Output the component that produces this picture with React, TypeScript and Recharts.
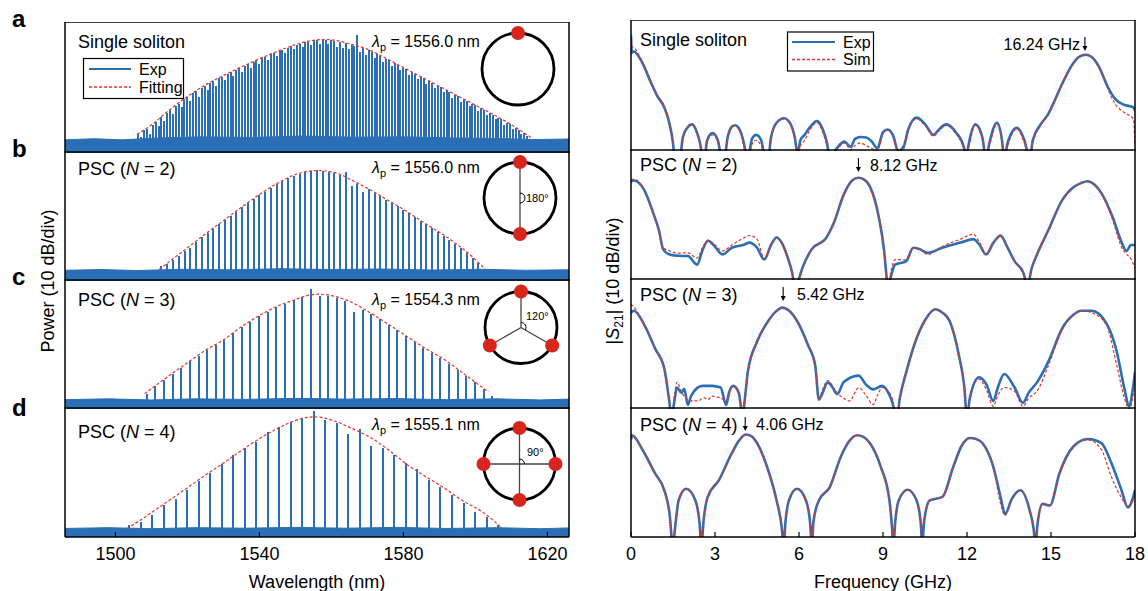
import React from 'react';
import { ComposedChart, Bar, Line, Area, XAxis, YAxis } from 'recharts';

const FONT = "'Liberation Sans', Arial, Helvetica, sans-serif";
const BLUE = '#2a6fb5';
const RED = '#e3342a';

type Pt = [number, number];

// ---------- optical spectra (left column) ----------
const wlDomain: [number, number] = [1486, 1626];
const wlTicks = [1500, 1540, 1580, 1620];
const powTicks = [10, 20, 30, 40];

// comb lines: [wavelength nm, power dB]
const combSingle: Pt[] = [
  [1506.4, 7], [1507.2, 6], [1508.0, 8.5], [1508.8, 9], [1509.6, 7], [1510.4, 10.5], [1511.2, 11.5], [1512.0, 10],
  [1512.8, 13.3], [1513.6, 12], [1514.4, 15], [1515.2, 16], [1516.0, 14.5], [1516.8, 17.6], [1517.6, 18.4], [1518.4, 17],
  [1519.2, 20], [1520.0, 20.8], [1520.8, 19.5], [1521.6, 22.2], [1522.4, 23], [1523.2, 21], [1524.0, 24.2], [1524.8, 25],
  [1525.6, 23.5], [1526.4, 26.1], [1527.2, 26.8], [1528.0, 25], [1528.8, 27.8], [1529.6, 28.4], [1530.4, 27], [1531.2, 29.5],
  [1532.0, 30], [1532.8, 28.5], [1533.6, 31], [1534.4, 31.5], [1535.2, 30], [1536.0, 32.5], [1536.8, 33], [1537.6, 31.5],
  [1538.4, 33.9], [1539.2, 34.4], [1540.0, 33], [1540.8, 35.3], [1541.6, 35.8], [1542.4, 34.5], [1543.2, 36.7], [1544.0, 37.1],
  [1544.8, 36], [1545.6, 38], [1546.4, 38.4], [1547.2, 37], [1548.0, 39.2], [1548.8, 39.6], [1549.6, 38.5], [1550.4, 40.3],
  [1551.2, 40.6], [1552.0, 39.5], [1552.8, 41.1], [1553.6, 41.4], [1554.4, 40], [1555.2, 41.9], [1556.0, 42], [1556.8, 40.5],
  [1557.6, 42.1], [1558.4, 42.1], [1559.2, 40.5], [1560.0, 41.9], [1560.8, 41.8], [1561.6, 39.5], [1562.4, 41.3], [1563.2, 39],
  [1564.0, 40.8], [1564.8, 38.5], [1565.6, 40.3], [1566.4, 39.9], [1567.2, 44], [1568.0, 37.5], [1568.8, 38.9], [1569.6, 36.5],
  [1570.4, 38.2], [1571.2, 37.7], [1572.0, 35.5], [1572.8, 36.7], [1573.6, 36.1], [1574.4, 34], [1575.2, 35.1], [1576.0, 34.5],
  [1576.8, 32.5], [1577.6, 33.5], [1578.4, 32.9], [1579.2, 31], [1580.0, 31.7], [1580.8, 31.1], [1581.6, 29], [1582.4, 30],
  [1583.2, 29.5], [1584.0, 27.5], [1584.8, 28.3], [1585.6, 27.8], [1586.4, 25.5], [1587.2, 26.7], [1588.0, 26.1], [1588.8, 24],
  [1589.6, 25], [1590.4, 24.4], [1591.2, 22.5], [1592.0, 23.3], [1592.8, 22.7], [1593.6, 20.5], [1594.4, 21.6], [1595.2, 21.1],
  [1596.0, 19], [1596.8, 19.9], [1597.6, 19.4], [1598.4, 17.5], [1599.2, 18.3], [1600.0, 17.7], [1600.8, 15.5], [1601.6, 16.6],
  [1602.4, 16], [1603.2, 14], [1604.0, 14.9], [1604.8, 14.3], [1605.6, 12.5], [1606.4, 13.1], [1607.2, 12.5], [1608.0, 10.5],
  [1608.8, 11.3], [1609.6, 10.7], [1610.4, 9], [1611.2, 9.4], [1612.0, 8.7], [1612.8, 7], [1613.6, 7.3], [1614.4, 6.5],
];
const envSingle: Pt[] = [
  [1506, 7], [1510, 10.4], [1515, 16], [1520, 21], [1525, 25.3], [1530, 28.8], [1535, 32], [1540, 35], [1545, 37.8],
  [1550, 40.3], [1555, 41.9], [1558, 42.2], [1561, 41.9], [1565, 40.6], [1570, 38.6], [1575, 35.3], [1580, 31.8],
  [1585, 28.3], [1590, 24.8], [1595, 21.3], [1600, 17.8], [1605, 14.3], [1610, 10.5], [1615.4, 5.8],
];
const floorSingle: Pt[] = [
  [1486, 4.9], [1494, 5.3], [1502, 4.9], [1512, 5.6], [1524, 6.0], [1538, 5.8], [1552, 6.3], [1566, 5.9],
  [1580, 6.0], [1594, 5.6], [1606, 5.4], [1616, 5.0], [1626, 5.2],
];

const combN2: Pt[] = [
  [1512.8, 5.5], [1514.4, 6.5], [1516.0, 8], [1517.6, 9.5], [1519.2, 11.4], [1520.8, 12.5], [1522.4, 14.7], [1524.0, 16.3],
  [1525.6, 18], [1527.2, 19.5], [1528.8, 21.2], [1530.4, 22.8], [1532.0, 24.5], [1533.6, 26], [1535.2, 27.6], [1536.8, 29.2],
  [1538.4, 30.7], [1540.0, 32.2], [1541.6, 33.5], [1543.2, 35], [1544.8, 36.3], [1546.4, 37.4], [1548.0, 38.5], [1549.6, 39.5],
  [1551.2, 40.2], [1552.8, 40.9], [1554.4, 41.2], [1556.0, 41.4], [1557.6, 41.2], [1559.2, 40.9], [1560.8, 40.4], [1562.4, 39.8],
  [1564.0, 41], [1565.6, 35.5], [1567.2, 36.5], [1568.8, 33.5], [1570.4, 34.3], [1572.0, 33], [1573.6, 31.8], [1575.2, 30.5],
  [1576.8, 29.2], [1578.4, 28], [1580.0, 26.6], [1581.6, 25.3], [1583.2, 24], [1584.8, 22.5], [1586.4, 21.2], [1588.0, 19.8],
  [1589.6, 18.4], [1591.2, 17], [1592.8, 15.5], [1594.4, 14], [1596.0, 12.4], [1597.6, 10.6], [1599.2, 8.7], [1600.8, 6.8],
];
const envN2: Pt[] = [
  [1512.2, 4.4], [1519, 11.4], [1525, 17.6], [1530, 22.6], [1535, 27.6], [1540, 32.4], [1545, 36.6], [1550, 39.9],
  [1553, 41], [1556.3, 41.4], [1559, 41.1], [1562.5, 39.9], [1566, 37.5], [1571, 34], [1576, 30], [1581, 26],
  [1586, 21.6], [1591, 17.4], [1596, 12.6], [1600, 8], [1602.7, 4.4],
];
const floorN2: Pt[] = [
  [1486, 4.0], [1496, 4.3], [1506, 3.9], [1518, 4.4], [1532, 4.2], [1546, 4.6], [1560, 4.3], [1574, 4.5],
  [1588, 4.1], [1602, 4.4], [1614, 4.0], [1626, 4.2],
];

const combN3: Pt[] = [
  [1508.7, 5.5], [1511.1, 8.5], [1513.5, 11], [1515.9, 13.2], [1518.3, 15.5], [1520.7, 17.8], [1523.1, 20], [1525.5, 22.2],
  [1527.9, 24], [1530.3, 26], [1532.7, 28.4], [1535.1, 30.7], [1537.5, 32.7], [1539.9, 34.8], [1542.3, 36.5], [1544.7, 38.2],
  [1547.1, 39.5], [1549.5, 40.7], [1551.9, 41.8], [1554.3, 45], [1556.7, 42.5], [1559.1, 42.3], [1561.5, 41.7], [1563.9, 40.5],
  [1566.3, 36.5], [1568.7, 37], [1571.1, 35.6], [1573.5, 33.6], [1575.9, 31.5], [1578.3, 29.5], [1580.7, 27.3], [1583.1, 25.2],
  [1585.5, 23], [1587.9, 21], [1590.3, 19.2], [1592.7, 17], [1595.1, 14.7], [1597.5, 12.4], [1599.9, 10], [1602.3, 7.5],
  [1604.7, 5],
];
const envN3: Pt[] = [
  [1508.1, 5.7], [1512, 9.6], [1516, 13.5], [1520, 17.3], [1525, 22], [1530, 25.9], [1535, 30.8], [1540, 35],
  [1545, 38.5], [1550, 41], [1553, 42.4], [1556.3, 43], [1560, 42.5], [1565.6, 40], [1570.8, 36], [1576, 31.6],
  [1581, 27.2], [1586, 22.8], [1591.3, 18.6], [1596, 14], [1601.8, 8.2], [1603.6, 6.5],
];
const floorN3: Pt[] = [
  [1486, 3.5], [1498, 3.8], [1510, 3.4], [1522, 3.8], [1536, 3.6], [1550, 4.0], [1564, 3.7], [1578, 3.9],
  [1592, 3.5], [1606, 3.8], [1618, 3.4], [1626, 3.7],
];

const combN4: Pt[] = [
  [1503.9, 4.5], [1507.1, 5.8], [1510.3, 8.2], [1513.5, 12], [1516.7, 14.2], [1519.9, 17.7], [1523.1, 20.9], [1526.3, 24],
  [1529.5, 27.2], [1532.7, 30.6], [1535.9, 33.2], [1539.1, 35.7], [1542.3, 39.2], [1545.5, 41.1], [1548.7, 43.2], [1551.9, 44.6],
  [1555.1, 47.2], [1558.3, 44], [1561.5, 42.8], [1564.7, 38.6], [1567.9, 40.5], [1571.1, 34.2], [1574.3, 33.5], [1577.5, 30.6],
  [1580.7, 27.8], [1583.9, 25.3], [1587.1, 21.5], [1590.3, 18.7], [1593.5, 15.8], [1596.7, 12.7], [1599.9, 9.5], [1603.1, 7.6],
  [1606.3, 4.5],
];
const envN4: Pt[] = [
  [1503.2, 3.2], [1507, 6.4], [1512, 11], [1519.2, 17.7], [1525, 23.2], [1529.5, 27.2], [1535, 32.4], [1539.8, 36.7],
  [1545, 40.6], [1550.1, 43.7], [1555.3, 45], [1560.4, 43.7], [1565.5, 40.8], [1570.8, 37.3], [1576, 32.5], [1581, 27.2],
  [1586, 22.8], [1591.3, 18.4], [1596, 14], [1601.8, 9.5], [1605, 6.2], [1607.4, 3.2],
];
const floorN4: Pt[] = [
  [1486, 3.2], [1498, 3.5], [1510, 3.1], [1522, 3.5], [1536, 3.3], [1550, 3.6], [1564, 3.3], [1578, 3.6],
  [1592, 3.2], [1606, 3.5], [1618, 3.1], [1626, 3.4],
];

// ---------- RF spectra (right column): [frequency GHz, |S21| dB] ----------
const fDomain: [number, number] = [0, 18];
const fTicks = [0, 3, 6, 9, 12, 15, 18];
const s21Ticks = [9.2, 19.2, 29.2, 39.2];

const expSingle: Pt[] = [
  [0, 43], [0.03, 36.5], [0.1, 37], [0.41, 32.7], [0.73, 25], [0.93, 20.6], [1.19, 16.2], [1.38, 9.9], [1.5, 3], [1.56, -3],
  [1.74, -3], [1.85, 5], [2.0, 8.5], [2.19, 9.9], [2.35, 7], [2.5, 1], [2.55, -3], [2.62, -3], [2.72, 4], [2.91, 6.7],
  [3.1, 4], [3.25, -3], [3.33, -3], [3.45, 5], [3.6, 9], [3.72, 9.6], [3.9, 7.5], [4.05, 2], [4.14, -3], [4.22, -1],
  [4.32, 4.5], [4.47, 6], [4.65, 4], [4.8, -3], [4.9, -3], [5.0, 5], [5.2, 10.5], [5.47, 12.2], [5.7, 10], [5.85, 5],
  [5.95, -1], [6.05, 4], [6.2, 6], [6.4, 9], [6.64, 11.1], [6.85, 8], [7.0, 3], [7.1, -3], [7.35, 1], [7.62, 3.5],
  [7.85, 1.5], [8.0, 4.5], [8.2, 5.2], [8.4, 5], [8.6, 3.5], [8.8, 1], [9.0, 7], [9.17, 8], [9.35, 6], [9.55, 0],
  [9.75, 2], [9.9, 8], [10.2, 12.4], [10.5, 10], [10.8, 6], [11.0, 8], [11.25, 9.9], [11.6, 7], [11.9, 1], [11.97, -3],
  [12.05, 2], [12.3, 9.9], [12.55, 5], [12.68, -3], [12.8, 3], [13.07, 10.5], [13.25, 4], [13.33, -3], [13.45, 3], [13.78, 8.6],
  [14.05, 4], [14.24, -3], [14.35, 4], [14.63, 9.9], [14.9, 13.7], [15.1, 18], [15.4, 25], [15.8, 32.7], [16.0, 35], [16.25, 35.8],
  [16.5, 34.5], [16.71, 31.4], [17.03, 23.8], [17.29, 19.4], [17.61, 17.2], [17.94, 16.2], [18, 15],
];
const simSingle: Pt[] = [
  [0, 39], [0.1, 38.5], [0.41, 33], [0.73, 25.5], [0.93, 21], [1.19, 16.5], [1.38, 10], [1.5, 3], [1.56, -2], [1.74, -2],
  [1.85, 5], [2.0, 8.5], [2.19, 9.7], [2.35, 7], [2.5, 1], [2.55, -2], [2.62, -2], [2.72, 3.5], [2.91, 6], [3.1, 3.5],
  [3.25, -2], [3.33, -2], [3.45, 5], [3.6, 9], [3.72, 9.4], [3.9, 7], [4.05, 1], [4.14, -2], [4.22, -2], [4.32, 2.5],
  [4.47, 4], [4.65, 2], [4.8, -2], [4.9, -2], [5.0, 5], [5.2, 10.5], [5.47, 12], [5.7, 10], [5.85, 5], [5.95, -1],
  [6.05, 2], [6.2, 4], [6.4, 8], [6.64, 10.5], [6.85, 7], [7.0, 2], [7.1, -2], [7.35, 0.5], [7.62, 3], [7.85, 0.5],
  [8.0, 2], [8.2, 3], [8.4, 2], [8.6, 1], [8.8, 0], [9.0, 6.5], [9.17, 7.7], [9.35, 5.5], [9.55, -1], [9.75, 1],
  [9.9, 7.5], [10.2, 12], [10.5, 9.5], [10.8, 5.5], [11.0, 7.5], [11.25, 9.5], [11.6, 6.5], [11.9, 0.5], [11.97, -2], [12.05, 1],
  [12.3, 9.5], [12.55, 4.5], [12.68, -2], [12.8, 2], [13.07, 10], [13.25, 3.5], [13.33, -2], [13.45, 2], [13.78, 8.3], [14.05, 3],
  [14.24, -2], [14.35, 3], [14.63, 9.5], [14.9, 13.5], [15.1, 18], [15.4, 25], [15.8, 32.7], [16.0, 35], [16.25, 35.8], [16.5, 34.5],
  [16.71, 31.4], [17.03, 23], [17.29, 17.5], [17.61, 14.3], [17.94, 12], [18, 2],
];

const expN2: Pt[] = [
  [0, 36.7], [0.1, 37], [0.47, 33.5], [0.8, 24.7], [1.0, 18.4], [1.15, 11.4], [1.38, 9.5], [1.7, 9], [2.03, 8.9], [2.36, 5.7],
  [2.55, 11], [2.75, 14.6], [2.95, 13], [3.27, 9.5], [3.6, 12], [4.0, 13], [4.24, 13.9], [4.5, 12], [4.76, 7.6], [5.0, 13],
  [5.2, 15.8], [5.4, 13.5], [5.6, 8.2], [5.75, 3], [5.86, -3], [5.95, -1], [6.12, 4.4], [6.45, 11.4], [6.97, 15.6], [7.23, 20.9],
  [7.62, 32.3], [7.9, 37], [8.13, 38], [8.3, 37.5], [8.53, 34.8], [8.85, 23.4], [9.04, 10.8], [9.12, 2], [9.17, -3], [9.3, 2],
  [9.43, 5.7], [9.83, 7], [10.08, 12], [10.3, 11.5], [10.6, 10.1], [11.12, 12], [11.77, 13.9], [12.23, 15.2], [12.45, 13], [12.68, 9.5],
  [12.95, 14], [13.2, 16.5], [13.45, 12], [13.7, 7], [14.0, 3], [14.17, -2], [14.3, 4], [14.5, 9.5], [14.9, 18.4], [15.4, 29.7],
  [15.8, 34.5], [16.07, 36], [16.3, 36.7], [16.55, 35.5], [16.8, 32.3], [17.2, 23.4], [17.5, 14.6], [17.7, 10.8], [17.85, 13], [18, 13],
];
const simN2: Pt[] = [
  [0, 37.3], [0.1, 37.5], [0.47, 33.5], [0.8, 24.7], [1.0, 18.4], [1.15, 12], [1.38, 10.8], [1.7, 10], [2.03, 10.1], [2.36, 8.1],
  [2.55, 12], [2.75, 14.8], [2.95, 13.5], [3.27, 10.8], [3.6, 13], [4.0, 15.5], [4.24, 16.5], [4.5, 15.2], [4.76, 8], [5.0, 13],
  [5.2, 16], [5.4, 13.5], [5.6, 8.2], [5.75, 3], [5.86, -3], [5.95, -1], [6.12, 4.4], [6.45, 11.4], [6.97, 15.6], [7.23, 20.9],
  [7.62, 32.3], [7.9, 37], [8.13, 38], [8.3, 37.5], [8.53, 34.8], [8.85, 23.4], [9.04, 10.8], [9.12, 2], [9.17, -3], [9.3, 4],
  [9.43, 7.6], [9.83, 7.5], [10.08, 12], [10.3, 11.5], [10.6, 9.5], [11.12, 12.5], [11.77, 15.2], [12.23, 17], [12.45, 14], [12.68, 9.5],
  [12.95, 14], [13.2, 16.5], [13.45, 12], [13.7, 7], [14.0, 3], [14.17, -2], [14.3, 4], [14.5, 9.5], [14.9, 18.4], [15.4, 29.7],
  [15.8, 34.5], [16.07, 36], [16.3, 36.5], [16.55, 35.3], [16.8, 32], [17.2, 22.5], [17.5, 12.7], [17.7, 9.5], [17.85, 8], [18, 4.4],
];

const expN3: Pt[] = [
  [0, 35.8], [0.1, 36.5], [0.47, 31.4], [0.86, 22.5], [1.19, 15], [1.36, 3.5], [1.45, -3], [1.55, 3], [1.64, 8], [1.8, 6],
  [1.9, 7.5], [2.03, 1.5], [2.15, 5], [2.55, 8.6], [2.9, 8.6], [3.2, 8], [3.4, 1.5], [3.5, 6], [3.65, 8.6], [3.85, 6],
  [3.98, -2], [4.1, 7], [4.17, 13.7], [4.5, 25], [4.9, 32.7], [5.15, 36], [5.4, 37.7], [5.65, 36.5], [5.93, 32.7], [6.32, 23.8],
  [6.58, 16.2], [6.71, 3.5], [6.8, 5], [7.03, 9.9], [7.2, 8], [7.36, 5.5], [7.6, 10], [8.13, 12.4], [8.4, 9], [8.65, 7.3],
  [8.97, 8.6], [9.3, 3.5], [9.5, -3], [9.6, 4], [9.83, 13.7], [10.2, 26.3], [10.5, 33], [10.87, 37.1], [11.1, 36], [11.38, 32.7],
  [11.71, 20], [11.9, 8.6], [12.0, -3], [12.1, 4], [12.43, 11.8], [12.7, 9], [12.94, 3], [13.1, 8], [13.33, 13], [13.7, 8],
  [14.0, 2.3], [14.2, 6], [14.5, 9.9], [14.9, 17.5], [15.4, 30], [15.8, 35], [16.07, 36.5], [16.45, 36.5], [16.97, 32], [17.35, 21.3],
  [17.6, 8.6], [17.8, 1], [17.9, 6], [18, 13.7],
];
const simN3: Pt[] = [
  [0, 39], [0.1, 38], [0.47, 31.4], [0.86, 22.5], [1.19, 15], [1.36, 3.5], [1.45, -3], [1.55, 5], [1.64, 9.9], [1.8, 6.5],
  [1.9, 4.8], [2.03, 3.5], [2.2, 3], [2.4, 3], [2.6, 4.2], [2.75, 3.5], [2.9, 4.8], [3.05, 4.5], [3.2, 4.2], [3.4, 3],
  [3.5, 6], [3.65, 8.6], [3.85, 6], [3.98, -2], [4.1, 7], [4.17, 13.7], [4.5, 25], [4.9, 32.7], [5.15, 36], [5.4, 37.7],
  [5.65, 36.5], [5.93, 32.7], [6.32, 23.8], [6.58, 16.2], [6.71, 3.5], [6.8, 6], [7.03, 10.6], [7.2, 8.5], [7.36, 6], [7.6, 4],
  [7.8, 3], [8.13, 7.9], [8.4, 5], [8.65, 1.6], [8.8, 5], [8.97, 8], [9.15, 7], [9.3, 4.8], [9.5, -3], [9.6, 4],
  [9.83, 13.7], [10.2, 26.3], [10.5, 33], [10.87, 37.1], [11.1, 36], [11.38, 32.7], [11.71, 20], [11.9, 8.6], [12.0, -3], [12.1, 4],
  [12.43, 11.1], [12.7, 7], [12.94, 1], [13.1, 5], [13.33, 8], [13.7, 6.6], [14.0, 1], [14.2, 4], [14.5, 6.6], [14.9, 16],
  [15.4, 29.5], [15.8, 35], [16.07, 36.5], [16.45, 35.8], [16.97, 31.4], [17.35, 16.2], [17.6, 4.8], [17.8, 0], [18, 9.9],
];

const expN4: Pt[] = [
  [0, 36.5], [0.05, 38], [0.41, 32.7], [0.86, 23.8], [1.19, 17.5], [1.38, 8.6], [1.49, -3], [1.6, 6], [1.7, 13.7], [1.97, 18.1],
  [2.3, 13.7], [2.45, 5], [2.51, -3], [2.6, 7], [2.74, 15], [3.14, 21.3], [3.6, 31.4], [3.85, 36], [4.1, 38.4], [4.3, 37.8],
  [4.5, 35.2], [4.9, 25], [5.2, 13.7], [5.38, 4], [5.45, -3], [5.52, 6], [5.64, 13.7], [5.93, 18.1], [6.25, 13.7], [6.4, 5],
  [6.45, -3], [6.52, 6], [6.71, 13.7], [7.1, 18.7], [7.49, 30], [7.8, 36], [8.07, 38.1], [8.3, 37.5], [8.53, 35.2], [8.92, 26.3],
  [9.23, 13.7], [9.32, 4], [9.37, -3], [9.44, 6], [9.56, 13.7], [9.88, 17.7], [10.2, 13.7], [10.35, 5], [10.4, -3], [10.47, 6],
  [10.67, 13.7], [11.12, 15], [11.51, 26.3], [11.8, 34], [12.1, 37.1], [12.3, 36.8], [12.55, 35.2], [12.94, 26.3], [13.2, 15], [13.36, 8.6],
  [13.6, 14.3], [13.91, 17.5], [14.24, 9.9], [14.38, 3], [14.44, -3], [14.52, 5], [14.7, 12.4], [14.96, 11.8], [15.3, 23.8], [15.8, 33.9],
  [16.32, 36.7], [16.8, 35.2], [17.16, 27.6], [17.5, 18.1], [17.75, 11.1], [18, 17.5],
];
const simN4: Pt[] = [
  [0, 38.4], [0.05, 38], [0.41, 32.7], [0.86, 23.8], [1.19, 17.5], [1.38, 8.6], [1.49, -3], [1.6, 6], [1.7, 13.7], [1.97, 18.1],
  [2.3, 13.7], [2.45, 5], [2.51, -3], [2.6, 7], [2.74, 15], [3.14, 21.3], [3.6, 31.4], [3.85, 36], [4.1, 38.4], [4.3, 37.8],
  [4.5, 35.2], [4.9, 25], [5.2, 13.7], [5.38, 4], [5.45, -3], [5.52, 6], [5.64, 13.7], [5.93, 18.1], [6.25, 13.7], [6.4, 5],
  [6.45, -3], [6.52, 6], [6.71, 13.7], [7.1, 18.7], [7.49, 30], [7.8, 36], [8.07, 38.1], [8.3, 37.5], [8.53, 35.2], [8.92, 26.3],
  [9.23, 13.7], [9.32, 4], [9.37, -3], [9.44, 6], [9.56, 13.7], [9.88, 17.7], [10.2, 13.7], [10.35, 5], [10.4, -3], [10.47, 6],
  [10.67, 13.7], [11.12, 15], [11.51, 26.3], [11.8, 34], [12.1, 37.1], [12.3, 36.8], [12.55, 35.2], [12.94, 26.3], [13.2, 12.4], [13.36, 8],
  [13.6, 14.3], [13.91, 17.5], [14.24, 9.9], [14.38, 3], [14.44, -3], [14.52, 5], [14.7, 12.4], [14.96, 11.8], [15.3, 23.8], [15.8, 33.9],
  [16.32, 36.4], [16.8, 32.7], [17.16, 22.5], [17.5, 15], [17.75, 11.7], [18, 15.2],
];

// ---------- layout ----------
const LEFT_X = 66;
const RIGHT_X = 632;
const PLOT_W = 502;
const PAD = 24; // room for edge tick labels
const leftTops = [23, 152, 280, 408, 537];
const rightTops = [21, 150, 279, 408, 537];
const DB_MAX = 48.7;

const xy = (pts: Pt[]) => pts.map(([x, y]) => ({ x, y }));
const tickFont = { fill: '#000', fontSize: 18, fontFamily: FONT };
const frame = { stroke: '#000', strokeWidth: 1.5 };
const tickStroke = { stroke: '#000', strokeWidth: 1.2 };

// comb line drawn as a crisp vertical stroke centred on the bar
const combShape = (w: number) => (props: any) => {
  const { x, y, width, height } = props;
  if (height == null || height <= 0) return <g />;
  const cx = Math.round(x + width / 2);
  return <rect x={cx - w / 2} y={y} width={w} height={height} fill={BLUE} shapeRendering="crispEdges" />;
};

// frame = 4 axes with inward ticks; only the bottom axis of the last row carries labels
function axesFor(domain: [number, number], xTicks: number[], yTicks: number[], labels: boolean, extra: number) {
  return [
    <XAxis key="b" xAxisId="b" dataKey="x" type="number" domain={domain} ticks={xTicks} interval={0} allowDataOverflow
      height={labels ? extra : 1} stroke="#000" axisLine={frame} tickLine={tickStroke}
      mirror={!labels} tickSize={labels ? -5 : 5} tickMargin={labels ? 15 : 0} tick={labels ? tickFont : false} />,
    <XAxis key="t" xAxisId="t" orientation="top" dataKey="x" type="number" domain={domain} ticks={xTicks} interval={0}
      allowDataOverflow height={1} mirror tick={false} tickSize={5} stroke="#000" axisLine={frame} tickLine={tickStroke} />,
    <YAxis key="l" yAxisId="l" type="number" domain={[0, DB_MAX]} ticks={yTicks} interval={0} allowDataOverflow
      width={1} mirror tick={false} tickSize={5} stroke="#000" axisLine={frame} tickLine={tickStroke} />,
    <YAxis key="r" yAxisId="r" orientation="right" type="number" domain={[0, DB_MAX]} ticks={yTicks} interval={0}
      allowDataOverflow width={1} mirror tick={false} tickSize={5} stroke="#000" axisLine={frame} tickLine={tickStroke} />,
  ];
}

function SpectrumPanel({ top, height, comb, env, floor, barW, labels }: {
  top: number; height: number; comb: Pt[]; env: Pt[]; floor: Pt[]; barW: number; labels: boolean;
}) {
  const extra = labels ? 34 : 0;
  const data = comb.map(([x, p]) => ({ x, p }));
  const W = PLOT_W + 2 + 2 * PAD;
  const H = height + 1 + (labels ? extra : 1);
  return (
    <div style={{ position: 'absolute', left: LEFT_X - 1 - PAD, top: top - 1, width: W, height: H }}>
      <ComposedChart width={W} height={H} data={data} margin={{ top: 0, right: PAD, bottom: 0, left: PAD }}>
        {axesFor(wlDomain, wlTicks, powTicks, labels, extra)}
        <Area xAxisId="b" yAxisId="l" data={xy(floor)} dataKey="y" type="linear" fill={BLUE} fillOpacity={1}
          stroke={BLUE} strokeWidth={1} isAnimationActive={false} />
        <Bar xAxisId="b" yAxisId="l" dataKey="p" fill={BLUE} barSize={barW} shape={combShape(barW)} isAnimationActive={false} />
        <Line xAxisId="b" yAxisId="l" data={xy(env)} dataKey="y" type="monotone" stroke={RED} strokeWidth={1.2}
          strokeDasharray="3 2" dot={false} isAnimationActive={false} />
      </ComposedChart>
    </div>
  );
}

function RfPanel({ top, height, exp, sim, labels }: {
  top: number; height: number; exp: Pt[]; sim: Pt[]; labels: boolean;
}) {
  const extra = labels ? 34 : 0;
  const W = PLOT_W + 2 + 2 * PAD;
  const H = height + 1 + (labels ? extra : 1);
  return (
    <div style={{ position: 'absolute', left: RIGHT_X - 1 - PAD, top: top - 1, width: W, height: H }}>
      <ComposedChart width={W} height={H} margin={{ top: 0, right: PAD, bottom: 0, left: PAD }}>
        {axesFor(fDomain, fTicks, s21Ticks, labels, extra)}
        <Line xAxisId="b" yAxisId="l" data={xy(exp)} dataKey="y" type="monotone" stroke={BLUE} strokeWidth={2.6}
          dot={false} isAnimationActive={false} />
        <Line xAxisId="b" yAxisId="l" data={xy(sim)} dataKey="y" type="monotone" stroke={RED} strokeWidth={1.2}
          strokeDasharray="3 2" dot={false} isAnimationActive={false} />
      </ComposedChart>
    </div>
  );
}

function Ring({ cx, cy, n, label, lx, ly }: { cx: number; cy: number; n: number; label?: string; lx?: number; ly?: number }) {
  const r = 36;
  const angles = n === 1 ? [-90] : n === 2 ? [-90, 90] : n === 3 ? [-90, 30, 150] : [-90, 0, 90, 180];
  const pts = angles.map((a) => [cx + r * Math.cos((a * Math.PI) / 180), cy + r * Math.sin((a * Math.PI) / 180)]);
  const arcEnd = n === 2 ? 90 : n === 3 ? 30 : 0;
  const ar = 5;
  const ex = cx + ar * Math.cos((arcEnd * Math.PI) / 180);
  const ey = cy + ar * Math.sin((arcEnd * Math.PI) / 180);
  return (
    <g>
      {n > 1 && pts.map(([x, y], i) => <line key={i} x1={cx} y1={cy} x2={x} y2={y} stroke="#444" strokeWidth={1.3} />)}
      {n > 1 && <path d={`M ${cx} ${cy - ar} A ${ar} ${ar} 0 0 1 ${ex} ${ey}`} fill="none" stroke="#000" strokeWidth={1} />}
      <circle cx={cx} cy={cy} r={r} fill="none" stroke="#000" strokeWidth={2.8} />
      {pts.map(([x, y], i) => <circle key={i} cx={x} cy={y} r={7} fill="#d9261c" />)}
      {label && <text x={lx} y={ly} fontSize={11} fontFamily={FONT}>{label}</text>}
    </g>
  );
}

function Arrow({ x, y1, y2 }: { x: number; y1: number; y2: number }) {
  return (
    <g>
      <line x1={x} y1={y1} x2={x} y2={y2 - 4} stroke="#000" strokeWidth={1.1} />
      <path d={`M ${x - 2.5} ${y2 - 5} L ${x + 2.5} ${y2 - 5} L ${x} ${y2} Z`} fill="#000" />
    </g>
  );
}

const fx = (f: number) => RIGHT_X + ((f - fDomain[0]) / (fDomain[1] - fDomain[0])) * PLOT_W;

function Lambda({ x, y, value }: { x: number; y: number; value: string }) {
  return (
    <text x={x} y={y} fontSize={16} fontFamily={FONT}>
      <tspan fontStyle="italic">λ</tspan>
      <tspan dy={4} fontSize={11}>p</tspan>
      <tspan dy={-4}>{` = ${value} nm`}</tspan>
    </text>
  );
}

function Psc({ x, y, n }: { x: number; y: number; n: number }) {
  return (
    <text x={x} y={y} fontSize={18} fontFamily={FONT}>
      PSC (<tspan fontStyle="italic">N</tspan>{` = ${n})`}
    </text>
  );
}

export default function App() {
  const lh = (i: number) => leftTops[i + 1] - leftTops[i];
  const rh = (i: number) => rightTops[i + 1] - rightTops[i];
  return (
    <div style={{ position: 'absolute', left: 0, top: 0, width: 1148, height: 591, background: '#fff', fontFamily: FONT }}>
      <SpectrumPanel top={leftTops[0]} height={lh(0)} comb={combSingle} env={envSingle} floor={floorSingle} barW={1.8} labels={false} />
      <SpectrumPanel top={leftTops[1]} height={lh(1)} comb={combN2} env={envN2} floor={floorN2} barW={2} labels={false} />
      <SpectrumPanel top={leftTops[2]} height={lh(2)} comb={combN3} env={envN3} floor={floorN3} barW={2} labels={false} />
      <SpectrumPanel top={leftTops[3]} height={lh(3)} comb={combN4} env={envN4} floor={floorN4} barW={2} labels />

      <RfPanel top={rightTops[0]} height={rh(0)} exp={expSingle} sim={simSingle} labels={false} />
      <RfPanel top={rightTops[1]} height={rh(1)} exp={expN2} sim={simN2} labels={false} />
      <RfPanel top={rightTops[2]} height={rh(2)} exp={expN3} sim={simN3} labels={false} />
      <RfPanel top={rightTops[3]} height={rh(3)} exp={expN4} sim={simN4} labels />

      <svg width={1148} height={591} style={{ position: 'absolute', left: 0, top: 0, pointerEvents: 'none' }}>
        {['a', 'b', 'c', 'd'].map((t, i) => (
          <text key={t} x={12} y={[27, 157, 285, 416][i]} fontSize={24} fontWeight="bold" fontFamily={FONT}>{t}</text>
        ))}

        <text x={78} y={48} fontSize={18} fontFamily={FONT}>Single soliton</text>
        <Psc x={78} y={175} n={2} />
        <Psc x={78} y={306} n={3} />
        <Psc x={78} y={438} n={4} />
        <Lambda x={372} y={47} value="1556.0" />
        <Lambda x={372} y={173} value="1556.0" />
        <Lambda x={372} y={305} value="1554.3" />
        <Lambda x={372} y={430} value="1555.1" />

        <rect x={83.5} y={58.5} width={100} height={40} fill="#fff" stroke="#000" strokeWidth={1.2} />
        <line x1={89} y1={69} x2={131} y2={69} stroke={BLUE} strokeWidth={2} />
        <text x={139} y={74.5} fontSize={16} fontFamily={FONT}>Exp</text>
        <line x1={89} y1={87} x2={131} y2={87} stroke={RED} strokeWidth={1.3} strokeDasharray="3 2" />
        <text x={139} y={92.5} fontSize={16} fontFamily={FONT}>Fitting</text>

        <Ring cx={518} cy={69} n={1} />
        <Ring cx={520} cy={198} n={2} label="180°" lx={526} ly={202} />
        <Ring cx={521} cy={327.5} n={3} label="120°" lx={526} ly={320} />
        <Ring cx={519.5} cy={464} n={4} label="90°" lx={527} ly={456} />

        <text x={640} y={46} fontSize={18} fontFamily={FONT}>Single soliton</text>
        <Psc x={640} y={171} n={2} />
        <Psc x={640} y={301} n={3} />
        <Psc x={640} y={431} n={4} />

        <text x={1080} y={50} fontSize={16} fontFamily={FONT} textAnchor="end">16.24 GHz</text>
        <Arrow x={fx(16.24)} y1={37} y2={51} />
        <Arrow x={fx(8.12)} y1={158} y2={172} />
        <text x={870} y={171} fontSize={16} fontFamily={FONT}>8.12 GHz</text>
        <Arrow x={fx(5.42)} y1={287} y2={301} />
        <text x={797} y={300} fontSize={16} fontFamily={FONT}>5.42 GHz</text>
        <Arrow x={fx(4.06)} y1={417} y2={431} />
        <text x={756} y={430} fontSize={16} fontFamily={FONT}>4.06 GHz</text>

        <rect x={787.5} y={32} width={86} height={39} fill="#fff" stroke="#000" strokeWidth={1.2} />
        <line x1={792} y1={42} x2={835} y2={42} stroke={BLUE} strokeWidth={2} />
        <text x={843} y={47.5} fontSize={16} fontFamily={FONT}>Exp</text>
        <line x1={792} y1={59.5} x2={835} y2={59.5} stroke={RED} strokeWidth={1.3} strokeDasharray="3 2" />
        <text x={843} y={65} fontSize={16} fontFamily={FONT}>Sim</text>

        <text x={317} y={588} fontSize={18} fontFamily={FONT} textAnchor="middle">Wavelength (nm)</text>
        <text x={883} y={588} fontSize={18} fontFamily={FONT} textAnchor="middle">Frequency (GHz)</text>
        <text x={54} y={281} fontSize={18} fontFamily={FONT} textAnchor="middle" transform="rotate(-90 54 281)">
          Power (10 dB/div)
        </text>
        <text x={619} y={281} fontSize={18} fontFamily={FONT} textAnchor="middle" transform="rotate(-90 619 281)">
          |<tspan fontStyle="italic">S</tspan><tspan dy={4} fontSize={12}>21</tspan><tspan dy={-4}>| (10 dB/div)</tspan>
        </text>
      </svg>
    </div>
  );
}
